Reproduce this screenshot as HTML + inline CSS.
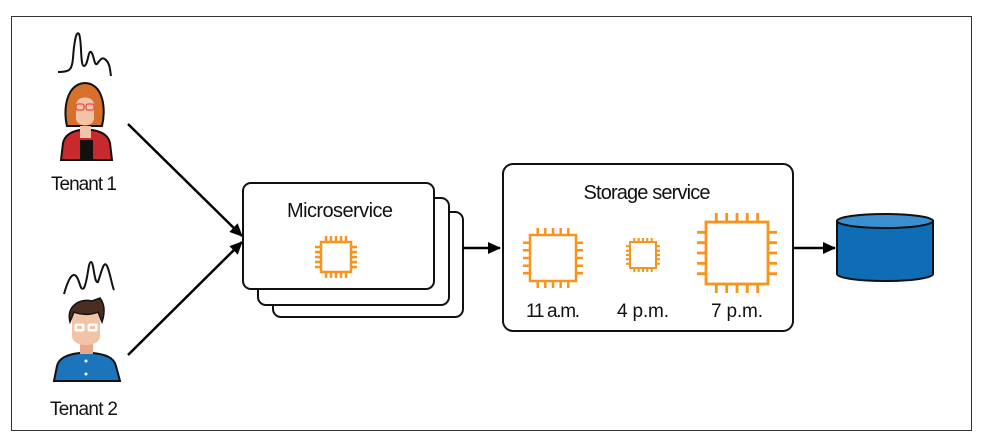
<!DOCTYPE html>
<html><head><meta charset="utf-8"><style>
html,body{margin:0;padding:0;background:#fff;}
svg{display:block;}
text{font-family:"Liberation Sans Narrow","Liberation Sans",sans-serif;fill:#111;}
</style></head><body>
<svg width="982" height="443" viewBox="0 0 982 443" xmlns="http://www.w3.org/2000/svg">
<defs>
<marker id="ah" markerWidth="13" markerHeight="12" refX="12" refY="6" orient="auto" markerUnits="userSpaceOnUse"><path d="M0,0 L13,6 L0,12 z" fill="#000"/></marker>
</defs>
<rect x="11.5" y="16.5" width="960" height="414" fill="#fff" stroke="#333" stroke-width="1"/>

<!-- waves -->
<path d="M58,72 C70,72 72,70 73,58 C74,44 76,30 79,34 C82,40 80,66 84,66 C88,66 88,50 91,52 C94,54 94,66 97,64 C100,60 102,56 106,60 C110,64 110,70 111,76" fill="none" stroke="#111" stroke-width="2"/>
<path d="M64,294 C68,280 72,272 76,276 C80,280 80,292 84,288 C88,280 88,262 91,262 C94,262 94,284 98,282 C102,270 104,260 107,266 C110,272 112,286 114,290" fill="none" stroke="#111" stroke-width="2"/>

<!-- person 1 -->
<path d="M61,160 L63,143 C65,134 74,131 80,130 L92,130 C99,131 108,134 110,143 L112,160 Z" fill="#c8292c" stroke="#111" stroke-width="2"/>
<rect x="80" y="140" width="13" height="20" fill="#111"/>
<path d="M67,126 C63,110 66,84 85,83 C104,84 106,110 102,126 Z" fill="#d8702d" stroke="#111" stroke-width="2"/>
<path d="M76,105 C76,95 94,95 94,105 L94,118 C94,128 76,128 76,118 Z" fill="#f3c3a8"/>
<rect x="80" y="126" width="11" height="12" fill="#f3c3a8"/>
<rect x="76" y="104" width="8" height="6" rx="2" fill="none" stroke="#e94b4b" stroke-width="1.3"/>
<rect x="86" y="104" width="8" height="6" rx="2" fill="none" stroke="#e94b4b" stroke-width="1.3"/>

<!-- person 2 -->
<path d="M54,381 L57,366 C59,357 70,354 80,353 L92,353 C104,354 114,357 116,366 L120,381 Z" fill="#1c74bb" stroke="#111" stroke-width="2"/>
<circle cx="86" cy="361" r="1.5" fill="#fff"/><circle cx="86" cy="374" r="1.5" fill="#fff"/>
<rect x="80" y="340" width="13" height="14" fill="#e8a78c"/>
<path d="M72,318 C72,306 100,306 100,318 L100,336 C100,348 72,348 72,336 Z" fill="#f3c3a8"/>
<path d="M70,322 C66,306 80,298 92,301 L100,298 C106,306 104,316 102,322 L98,312 C90,316 78,314 74,312 Z" fill="#4a2e22" stroke="#111" stroke-width="1.5"/>
<rect x="75" y="324" width="9" height="7" rx="1.5" fill="#fff" stroke="#fff" stroke-width="1"/>
<rect x="88" y="324" width="9" height="7" rx="1.5" fill="#fff" stroke="#fff" stroke-width="1"/>
<rect x="77" y="326" width="5" height="3" fill="#f3c3a8"/><rect x="90" y="326" width="5" height="3" fill="#f3c3a8"/>

<text x="84" y="190" font-size="19" text-anchor="middle" textLength="66">Tenant 1</text>
<text x="84" y="415" font-size="19" text-anchor="middle" textLength="68">Tenant 2</text>

<!-- arrows -->
<line x1="128" y1="124" x2="242" y2="236" stroke="#000" stroke-width="2.5" marker-end="url(#ah)"/>
<line x1="128" y1="355" x2="242" y2="242" stroke="#000" stroke-width="2.5" marker-end="url(#ah)"/>

<!-- microservice stack -->
<rect x="273" y="212" width="190" height="105" rx="8" fill="#fff" stroke="#111" stroke-width="2"/>
<rect x="258" y="198" width="191" height="107" rx="8" fill="#fff" stroke="#111" stroke-width="2"/>
<rect x="243" y="183" width="191" height="106" rx="8" fill="#fff" stroke="#111" stroke-width="2"/>
<text x="340" y="217" font-size="20" text-anchor="middle" textLength="106">Microservice</text>

<line x1="463" y1="248" x2="500" y2="248" stroke="#000" stroke-width="2.5" marker-end="url(#ah)"/>

<!-- storage -->
<rect x="503" y="164" width="290" height="167" rx="10" fill="#fff" stroke="#111" stroke-width="2"/>
<text x="647" y="199" font-size="20" text-anchor="middle" textLength="127">Storage service</text>
<text x="553" y="317" font-size="19" text-anchor="middle" textLength="54">11 a.m.</text>
<text x="643" y="317" font-size="19" text-anchor="middle" textLength="52">4 p.m.</text>
<text x="737" y="317" font-size="19" text-anchor="middle" textLength="52">7 p.m.</text>

<line x1="793" y1="248" x2="835" y2="248" stroke="#000" stroke-width="2.5" marker-end="url(#ah)"/>

<!-- cylinder -->
<path d="M837,221 L837,274 A48,7 0 0 0 933,274 L933,221 Z" fill="#0f6db6" stroke="#111" stroke-width="2"/>
<ellipse cx="885" cy="221" rx="48" ry="7" fill="#3a8fd0" stroke="#111" stroke-width="2"/>

<!-- chips -->
<g fill="none" stroke="#f7941d" stroke-width="2.5">
<rect x="321" y="242" width="30" height="30" fill="#fff"/>
<path d="M326,242V236M331,242V236M336,242V236M341,242V236M346,242V236M326,272V278M331,272V278M336,272V278M341,272V278M346,272V278M321,247H315M321,252H315M321,257H315M321,262H315M321,267H315M351,247H357M351,252H357M351,257H357M351,262H357M351,267H357"/>

<rect x="530" y="235" width="46" height="46" fill="#fff"/>
<path d="M537.7,235V228M545.3,235V228M553,235V228M560.7,235V228M568.3,235V228M537.7,281V288M545.3,281V288M553,281V288M560.7,281V288M568.3,281V288M530,242.7H523M530,250.3H523M530,258H523M530,265.7H523M530,273.3H523M576,242.7H583M576,250.3H583M576,258H583M576,265.7H583M576,273.3H583"/>

<g stroke-width="2">
<rect x="630" y="242" width="26" height="26" fill="#fff"/>
<path d="M634.3,242V238M638.7,242V238M643,242V238M647.3,242V238M651.7,242V238M634.3,268V272M638.7,268V272M643,268V272M647.3,268V272M651.7,268V272M630,246.3H626M630,250.7H626M630,255H626M630,259.3H626M630,263.7H626M656,246.3H660M656,250.7H660M656,255H660M656,259.3H660M656,263.7H660"/>
</g>

<g stroke-width="2.8">
<rect x="706" y="222" width="62" height="62" fill="#fff"/>
<path d="M716.3,222V213M726.7,222V213M737,222V213M747.3,222V213M757.7,222V213M716.3,284V293M726.7,284V293M737,284V293M747.3,284V293M757.7,284V293M706,232.3H697M706,242.7H697M706,253H697M706,263.3H697M706,273.7H697M768,232.3H777M768,242.7H777M768,253H777M768,263.3H777M768,273.7H777"/>
</g>
</g>
</svg>
</body></html>
